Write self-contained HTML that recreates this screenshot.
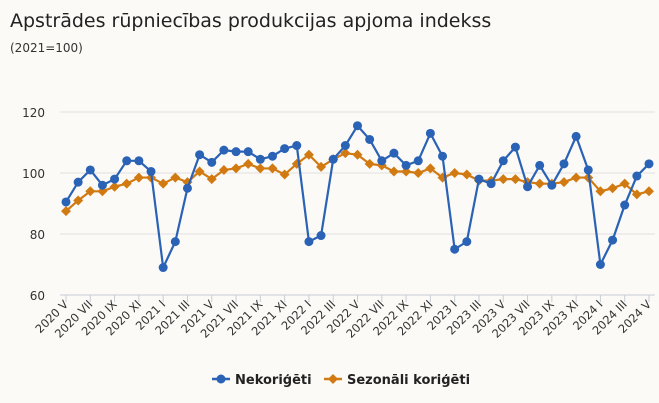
<!DOCTYPE html>
<html><head><meta charset="utf-8"><style>
body{margin:0;background:#fbfaf7;}
svg{display:block;font-family:"DejaVu Sans","Liberation Sans",sans-serif;}
</style></head><body>
<svg id="chart" width="659" height="403">
<rect width="659" height="403" fill="#fbfaf7"/>
<text x="10" y="27" font-size="19" fill="#222">Apstrādes rūpniecības produkcijas apjoma indekss</text>
<text x="10" y="52" font-size="12" fill="#333">(2021=100)</text>
<g id="grid"></g><g id="xaxis"></g><g id="series"></g>
<g>
<g>
<line x1="212" y1="379" x2="230" y2="379" stroke="#2a62b5" stroke-width="2.5"/><circle cx="221" cy="379" r="4.5" fill="#2a62b5"/>
<text x="235" y="384" font-size="13" font-weight="bold" fill="#222">Nekoriģēti</text></g>
<g>
<line x1="324" y1="379" x2="342" y2="379" stroke="#d27a12" stroke-width="2.5"/><path d="M333 374 L338 379 L333 384 L328 379Z" fill="#d27a12"/>
<text x="347" y="384" font-size="13" font-weight="bold" fill="#222">Sezonāli koriģēti</text></g>
</g>
</svg>
<script>
const categories=["2020 V","2020 VI","2020 VII","2020 VIII","2020 IX","2020 X","2020 XI","2020 XII","2021 I","2021 II","2021 III","2021 IV","2021 V","2021 VI","2021 VII","2021 VIII","2021 IX","2021 X","2021 XI","2021 XII","2022 I","2022 II","2022 III","2022 IV","2022 V","2022 VI","2022 VII","2022 VIII","2022 IX","2022 X","2022 XI","2022 XII","2023 I","2023 II","2023 III","2023 IV","2023 V","2023 VI","2023 VII","2023 VIII","2023 IX","2023 X","2023 XI","2023 XII","2024 I","2024 II","2024 III","2024 IV","2024 V"];
const nekorigeti=[90.5,97,101,96,98,104,104,100.5,69,77.5,95,106,103.5,107.5,107,107,104.5,105.5,108,109,77.5,79.5,104.5,109,115.5,111,104,106.5,102.5,104,113,105.5,75,77.5,98,96.5,104,108.5,95.5,102.5,96,103,112,101,70,78,89.5,99,103];
const sezonali=[87.5,91,94,94,95.5,96.5,98.5,98.5,96.5,98.5,97,100.5,98,101,101.5,103,101.5,101.5,99.5,103,106,102,104.5,106.5,106,103,102.5,100.5,100.5,100,101.5,98.5,100,99.5,97.5,97.5,98,98,97,96.5,96.5,97,98.5,98.5,94,95,96.5,93,94];
const yTicks=[60,80,100,120];
const NS="http://www.w3.org/2000/svg";
const x=i=>66+i*(649-66)/(categories.length-1);
const y=v=>295-(v-60)*(295-112)/60;
function mk(t,a,p){const e=document.createElementNS(NS,t);for(const k in a)e.setAttribute(k,a[k]);p.appendChild(e);return e;}
const grid=document.getElementById('grid'),xa=document.getElementById('xaxis'),se=document.getElementById('series');
yTicks.forEach(v=>{
 const l=mk('line',{x1:60,x2:655,y1:y(v),y2:y(v),stroke:v===60?'#c8ccd6':'#e0e0e0','stroke-width':1},grid);
 
 
 const t=mk('text',{x:45,y:y(v)+5,'font-size':12,fill:'#333','text-anchor':'end'},grid);t.textContent=v;
 
 
});
categories.forEach((c,i)=>{
 if(i%2)return;
 const tk=mk('line',{x1:x(i),x2:x(i),y1:295,y2:302,stroke:'#c8ccd6'},xa);
 
 
 const t=mk('text',{x:x(i)+3,y:305,'font-size':11.5,fill:'#333','text-anchor':'end',transform:`rotate(-45 ${x(i)+3} 305)`},xa);t.textContent=c;
 
 
});
function line(data,color,name,marker){
 const g=mk('g',{},se);
 
 
 const p=mk('polyline',{points:data.map((v,i)=>x(i)+','+y(v)).join(' '),fill:'none',stroke:color,'stroke-width':2.2,'stroke-linejoin':'round'},g);
 
 
 data.forEach((v,i)=>{
  let m;
  if(marker==='c')m=mk('circle',{cx:x(i),cy:y(v),r:4.5,fill:color},g);
  else m=mk('path',{d:`M${x(i)} ${y(v)-5}L${x(i)+5} ${y(v)}L${x(i)} ${y(v)+5}L${x(i)-5} ${y(v)}Z`,fill:color},g);
  
  
 });
}
line(sezonali,'#d27a12','series-sezonali-korigeti','d');
line(nekorigeti,'#2a62b5','series-nekorigeti','c');
</script>
</body></html>
